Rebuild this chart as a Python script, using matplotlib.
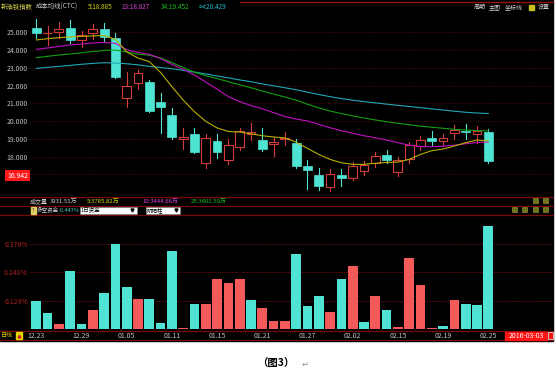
import matplotlib
matplotlib.use('Agg')
import matplotlib.pyplot as plt
from matplotlib.patches import Rectangle

plt.rcParams['font.family'] = ['Noto Sans CJK SC', 'DejaVu Sans']

# ---------------- data ----------------
dates = ['12.23', '12.24', '12.25', '12.28', '12.29', '12.30', '12.31', '01.04', '01.05', '01.06',
         '01.07', '01.08', '01.11', '01.12', '01.13', '01.14', '01.15', '01.18', '01.19', '01.20',
         '01.21', '01.22', '01.25', '01.26', '01.27', '01.28', '01.29', '02.01', '02.02', '02.03',
         '02.04', '02.05', '02.15', '02.16', '02.17', '02.18', '02.19', '02.22', '02.23', '02.24', '02.25']
opens = [25.26, 24.95, 25.00, 25.26, 24.55, 24.94, 25.20, 24.70, 21.30, 22.13,
         22.20, 21.06, 20.35, 18.98, 19.26, 17.63, 18.87, 17.80, 18.57, 19.30,
         18.92, 18.70, 18.98, 18.79, 17.48, 16.95, 16.28, 16.95, 16.80, 17.20,
         17.66, 18.08, 17.16, 17.87, 18.62, 19.03, 18.87, 19.31, 19.46, 19.26, 19.37]
highs = [25.75, 25.35, 25.56, 25.69, 25.10, 25.47, 25.54, 24.94, 22.75, 22.88,
         22.32, 21.59, 20.76, 19.60, 19.60, 19.26, 19.26, 19.00, 19.60, 19.92,
         19.63, 19.09, 19.41, 19.00, 17.81, 17.35, 17.31, 17.29, 17.69, 17.76,
         18.28, 18.38, 17.99, 18.83, 19.16, 19.44, 19.28, 19.80, 19.84, 19.74, 19.54]
lows = [24.66, 24.29, 24.70, 24.38, 24.16, 24.62, 24.51, 22.45, 20.82, 21.81,
        20.53, 19.35, 19.00, 18.41, 18.19, 17.35, 17.90, 17.57, 18.38, 18.94,
        18.32, 18.06, 18.66, 17.35, 16.16, 16.13, 16.09, 16.35, 16.69, 16.95,
        17.44, 17.63, 16.91, 17.63, 18.38, 18.66, 18.64, 19.00, 19.01, 18.75, 17.63]
closes = [24.94, 24.97, 25.19, 24.55, 24.87, 25.19, 24.76, 22.50, 22.00, 22.69,
          20.57, 20.82, 19.09, 19.11, 18.28, 19.03, 18.25, 18.66, 19.47, 19.37,
          18.45, 18.81, 19.07, 17.48, 17.23, 16.37, 17.03, 16.82, 17.46, 17.55,
          18.04, 17.81, 17.80, 18.64, 18.94, 18.90, 19.03, 19.50, 19.39, 19.45, 17.74]

ma5 = [24.57, 24.64, 24.70, 24.74, 24.77, 24.80, 24.82, 24.60, 23.90, 23.55,
       23.35, 22.74, 21.94, 21.19, 20.53, 19.99, 19.62, 19.42, 19.39, 19.29,
       19.18, 19.11, 19.06, 18.82, 18.47, 18.13, 17.85, 17.66, 17.57, 17.57,
       17.63, 17.68, 17.70, 17.85, 18.13, 18.34, 18.43, 18.60, 18.79, 18.94, 18.885]
ma13 = [24.04, 24.12, 24.20, 24.29, 24.34, 24.40, 24.43, 24.38, 24.02, 23.87,
        23.76, 23.52, 23.20, 22.92, 22.60, 22.20, 21.80, 21.38, 21.10, 20.88,
        20.70, 20.48, 20.26, 20.12, 20.01, 19.82, 19.63, 19.46, 19.32, 19.18,
        19.07, 18.94, 18.79, 18.65, 18.57, 18.56, 18.59, 18.65, 18.73, 18.80, 18.827]
ma34 = [23.57, 23.65, 23.72, 23.78, 23.85, 23.92, 23.98, 24.00, 23.90, 23.77,
        23.71, 23.56, 23.30, 23.02, 22.75, 22.56, 22.40, 22.22, 22.05, 21.88,
        21.70, 21.52, 21.36, 21.18, 20.95, 20.75, 20.57, 20.43, 20.30, 20.18,
        20.07, 19.97, 19.88, 19.80, 19.72, 19.66, 19.60, 19.54, 19.50, 19.47, 19.452]
ma_inf = [22.97, 23.03, 23.08, 23.14, 23.20, 23.25, 23.29, 23.27, 23.23, 23.17,
          23.08, 23.02, 22.95, 22.86, 22.76, 22.66, 22.54, 22.44, 22.32, 22.22,
          22.10, 21.99, 21.88, 21.77, 21.63, 21.50, 21.38, 21.27, 21.18, 21.10,
          21.03, 20.96, 20.89, 20.83, 20.76, 20.69, 20.63, 20.56, 20.50, 20.46, 20.429]

fund = [0.123, 0.070, 0.022, 0.254, 0.022, 0.083, 0.158, 0.372, 0.184, 0.131,
        0.131, 0.028, 0.342, 0.004, 0.110, 0.110, 0.219, 0.200, 0.219, 0.127,
        0.092, 0.035, 0.035, 0.329, 0.100, 0.145, 0.074, 0.219, 0.276, 0.030,
        0.145, 0.083, 0.009, 0.311, 0.193, 0.004, 0.013, 0.127, 0.110, 0.105, 0.450]
fund_sign = "ccrccrcccrcccrcrrrrcrrrcccrcrcrcrrrrcrccc"

price_levels = [18, 19, 20, 21, 22, 23, 24, 25]
grid_levels = [17, 18, 19, 20, 21, 22, 23, 24, 25]
fund_levels = [0.124, 0.248, 0.370]
cur_price = 16.942
vol_labels = [('成交量', '#d0d0d0'), ('3931.51万', '#d0d0d0'), ('5:3785.82万', '#e0e000'),
              ('10:3444.66万', '#e040e0'), ('25:3401.59万', '#20c020')]

# ---------------- style ----------------
CYAN = '#4fe3d3'
RED = '#d43c3c'
BARRED = '#f45a5a'
GRID = '#6e0c0c'
LINE = '#7a0a0a'
FS = 5
FS2 = 4.3

W, H = 556, 385
fig = plt.figure(figsize=(W / 100, H / 100), dpi=100, facecolor='white')


def px_axes(x0, y0, x1, y1, z=1):
    a = fig.add_axes([x0 / W, 1 - y1 / H, (x1 - x0) / W, (y1 - y0) / H])
    a.set_zorder(z)
    return a


bg = px_axes(0, 0, W, H, 0)
bg.set_xlim(0, W)
bg.set_ylim(H, 0)
bg.axis('off')
bg.add_patch(Rectangle((0, 0), 553, 341, color='black', zorder=0))

# separators
bg.plot([240, 553], [1.5, 1.5], color='#8b1515', lw=1)
for yy in [196.5, 205.5, 214.5, 330.5, 339.5]:
    bg.plot([0, 553], [yy, yy], color=LINE, lw=0.9)

# header row
hdr = [(1, '新浩铁指数', '#d8d050'), (36, '成本均线(CTC)', '#c8c8c8'),
       (88, '5:%.3f' % ma5[-1], '#d8d800'), (121, '13:%.3f' % ma13[-1], '#e040e0'),
       (161, '34:%.3f' % ma34[-1], '#20c020'), (199, '∞:%.3f' % ma_inf[-1], '#20c0d0')]
for x, t, c in hdr:
    bg.text(x, 7, t, color=c, fontsize=4.6, ha='left', va='center')
for x, t in [(474, '周期'), (489, '主图'), (505, '坐标线'), (538, '设置')]:
    bg.text(x, 7, t, color='#d0d0d0', fontsize=FS2, ha='left', va='center')
bg.add_patch(Rectangle((529, 4.5), 5, 5, color='#c8c020', zorder=2))

# volume row
vx = [30, 50, 87, 142, 191]
for x, (t, c) in zip(vx, vol_labels):
    bg.text(x, 201, t, color=c, fontsize=FS2, ha='left', va='center')

# fund row
bg.add_patch(Rectangle((30.5, 206.5), 5, 7, color='#e0d060', zorder=2))
bg.text(33, 210, '?', color='#303030', fontsize=3.8, ha='center', va='center', zorder=3)
bg.text(37, 210, '多空资金', color='#d0d0d0', fontsize=4, ha='left', va='center')
bg.text(58.5, 210, '-0.447%', color='#40d0c0', fontsize=4, ha='left', va='center')
bg.add_patch(Rectangle((80, 206.5), 57, 7.5, facecolor='white', edgecolor='#808080', lw=0.4, zorder=2))
bg.text(81, 210.3, '1日资金', color='black', fontsize=4, ha='left', va='center', zorder=3)
bg.plot([132], [210], marker='v', ms=2.2, color='black', zorder=3)
bg.add_patch(Rectangle((146, 206.5), 34, 7.5, facecolor='white', edgecolor='#808080', lw=0.4, zorder=2))
bg.text(147, 210.3, '阴阳柱', color='black', fontsize=4, ha='left', va='center', zorder=3)
bg.plot([176], [210], marker='v', ms=2.2, color='black', zorder=3)

# small icons on right
for x, y in [(533, 198), (543, 198), (512, 207), (522, 207), (533, 207), (543, 207)]:
    bg.add_patch(Rectangle((x, y), 5, 5, facecolor='#707020', edgecolor='#a0a030', lw=0.4, zorder=2))

# bottom-left
bg.text(1, 335.5, '日线', color='#e0d000', fontsize=FS2, ha='left', va='center')
bg.add_patch(Rectangle((16, 332), 6, 7, color='#e8d800', zorder=2))
bg.plot([19], [335.5], marker='^', ms=2, color='#c02020', zorder=3)

# date box on right
bg.add_patch(Rectangle((505, 331.5), 42, 8, color='#ff1414', zorder=2))
bg.text(526, 335.7, '2016-03-03', color='white', fontsize=FS, ha='center', va='center', zorder=3)
bg.add_patch(Rectangle((548, 332), 4.5, 7, facecolor='#ff1414', edgecolor='white', lw=0.5, zorder=2))

# caption
bg.text(276, 364, '（图3）', color='black', fontsize=7.5, fontweight='bold', ha='center', va='center')
bg.text(305, 364, '↵', color='#909090', fontsize=6, ha='center', va='center')

# ---------------- price panel ----------------
n = len(closes)
idx = list(range(1, n + 1))
XL = (0.442, 46.73)

ax = px_axes(30, 14, 553, 196, 2)
ax.set_facecolor('none')
ax.set_xlim(*XL)
ax.set_ylim(15.79, 26.03)
for s in ax.spines.values():
    s.set_visible(False)
ax.set_xticks([])
ax.set_yticks(price_levels)
ax.set_yticklabels(['%.3f' % v for v in price_levels])
ax.tick_params(axis='y', length=0, pad=1.5, labelsize=FS, labelcolor='#c0c0c0')
for g in grid_levels:
    ax.axhline(g, color=GRID, lw=0.6, ls=(0, (1, 2)), zorder=0)

bw = 0.78
for i, o, h, l, c in zip(idx, opens, highs, lows, closes):
    if c >= o:
        ax.plot([i, i], [l, h], color=RED, lw=0.8, zorder=2)
        ax.add_patch(Rectangle((i - bw / 2, o), bw, max(c - o, 0.03), facecolor='black',
                               edgecolor=RED, lw=0.8, zorder=3))
    else:
        ax.plot([i, i], [l, h], color=CYAN, lw=0.8, zorder=2)
        ax.add_patch(Rectangle((i - bw / 2, c), bw, o - c, facecolor=CYAN,
                               edgecolor=CYAN, lw=0.5, zorder=3))

ax.plot(idx, ma_inf, color='#20a8b8', lw=0.8, zorder=4)
ax.plot(idx, ma34, color='#10a010', lw=0.8, zorder=4)
ax.plot(idx, ma13, color='#c010c0', lw=0.8, zorder=4)
ax.plot(idx, ma5, color='#b8b000', lw=0.8, zorder=4)

ax.text(-0.004, cur_price, '%.3f' % cur_price, transform=ax.get_yaxis_transform(),
        ha='right', va='center', color='white', fontsize=FS, zorder=5,
        bbox=dict(facecolor='#ff1a1a', edgecolor='none', pad=1.2))

# ---------------- fund panel ----------------
bx = px_axes(30, 214.5, 553, 329, 2)
bx.set_facecolor('none')
bx.set_xlim(*XL)
bx.set_ylim(0, 0.501)
for s in bx.spines.values():
    s.set_visible(False)
cols = [CYAN if s == 'c' else BARRED for s in fund_sign]
bx.bar(idx, fund, width=0.86, color=cols, zorder=2)
for g in fund_levels:
    bx.axhline(g, color='#8a1010', lw=0.7, ls=(0, (1, 1.5)), zorder=1)
bx.set_yticks(fund_levels)
bx.set_yticklabels(['%.3f%%' % v for v in fund_levels])
bx.tick_params(axis='y', length=0, pad=1.5, labelsize=FS, labelcolor='#a82020')
bx.set_xticks(idx[::4])
bx.set_xticklabels(dates[::4])
bx.tick_params(axis='x', length=0, pad=2.2, labelsize=FS, labelcolor='#c0c0c0')

fig.savefig('out.png', dpi=100, facecolor='white')
